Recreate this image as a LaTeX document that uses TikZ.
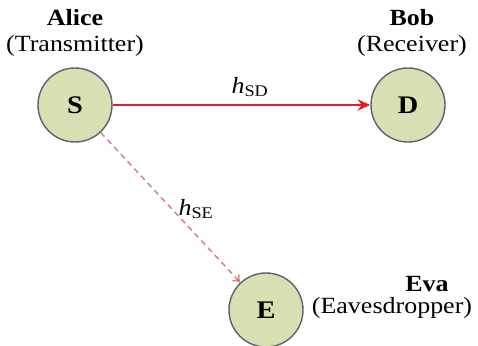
\documentclass[tikz,border=0pt]{standalone}
\usepackage{fontspec}
\setmainfont[FakeStretch=1.12]{Liberation Serif}
\usetikzlibrary{arrows.meta}

\definecolor{nodefill}{HTML}{D7DFB3}
\definecolor{nodeline}{HTML}{56646E}
\definecolor{linkred}{HTML}{E01E24}
\definecolor{leakred}{HTML}{D47C7C}

\tikzset{
    user/.style={circle, draw=nodeline, line width=1pt, fill=nodefill, minimum size=1.85cm,
        font=\fontsize{18}{22}\selectfont\bfseries},
    tag/.style={align=center, font=\fontsize{16.5}{19}\selectfont},
    gain/.style={font=\fontsize{16.5}{19}\selectfont}
}

\begin{document}
\begin{tikzpicture}
    \useasboundingbox (0,0) rectangle (11.95,8.625);

    % Draw the three users
    \node[user] (S) at (1.875,6.0) {S};
    \node[user] (D) at (10.2,6.0) {D};
    \node[user] (E) at (6.65,0.875) {E};

    % Names of the users
    \node[tag] (alice) at (1.875,7.8) {\textbf{Alice}\\(Transmitter)};
    \node[tag] (bob) at (10.3,7.8) {\textbf{Bob}\\(Receiver)};
    \node[tag] (eva) at (10.675,1.52) {\textbf{Eva}};
    \node[tag] (eavesdropper) at (9.8,0.93) {(Eavesdropper)};

    % Links
    \draw[linkred, line width=1.6pt, -{Stealth[length=9pt,width=8pt]}] (S) -- (D);
    \draw[leakred, line width=1pt, dash pattern=on 4pt off 3pt, -{To[length=5pt,width=7pt]}] (S) -- (E);

    % Channel gains
    \node[gain] (hsd) at (6.25,6.45) {\textit{h}\textsubscript{SD}};
    \node[gain] (hse) at (4.9,3.4) {\textit{h}\textsubscript{SE}};

\end{tikzpicture}
\end{document}
